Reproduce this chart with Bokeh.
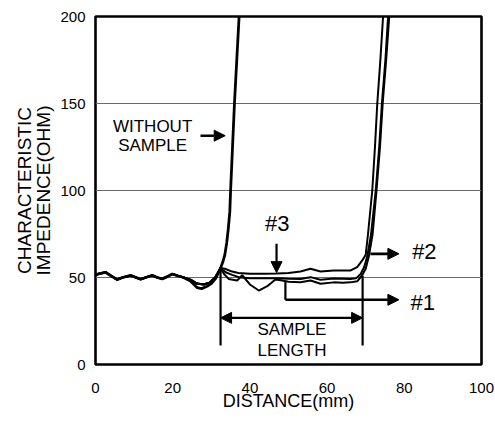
import math
from bokeh.plotting import figure
from bokeh.models import Range1d, Label, Arrow, NormalHead, FixedTicker
from bokeh.embed import file_html
from bokeh.resources import INLINE

FONT = "Liberation Sans"

# ---- data ----
# common wavy baseline before the sample (shared by all curves)
base_x = [0, 1, 2.6, 4, 5.6, 7, 9.1, 10.5, 11.7, 13, 14.7, 16, 17.3, 18.6, 19.9, 21.3, 22.8]
base_y = [51.5, 52.2, 53, 51, 48.8, 50, 51.2, 50, 49, 50, 51.2, 50, 49.2, 50.5, 52, 51, 50]

# without sample
wo_x = base_x + [24.6, 26.3, 27.5, 28.9, 30, 31.1, 31.9, 32.5, 33, 33.5, 34, 34.4, 34.8, 35.0, 35.5, 36.0, 36.6, 37.2]
wo_y = base_y + [48, 44.2, 43.6, 45, 46.5, 49.4, 53, 56, 59, 63, 70, 78, 88, 100, 125, 150, 175, 200]

pre_x = [24.6, 26.3, 28, 29.5, 31, 32.4]
pre_y = [48.8, 46.5, 46, 47, 50, 55.5]

# sample #2 (top)
s2_x = base_x + pre_x + [33.5, 35.4, 37, 40, 44, 47, 50, 53.1, 55.7, 58.3, 61.7, 64, 66, 67.8, 69.1, 70, 70.6, 71.7, 72.4, 73.0, 73.8, 74.5]
s2_y = base_y + pre_y + [55, 53.4, 52.6, 52.1, 52.1, 52.3, 52.6, 53.4, 55, 53.4, 54, 54, 54, 56, 59.8, 63, 75, 100, 125, 150, 175, 200]

# sample #3 (middle)
s3_x = base_x + pre_x + [33.7, 35.4, 37.1, 40, 44, 47, 50, 53.1, 55.7, 58.3, 61.7, 64, 66, 67.5, 68.7, 69.6, 70.4, 71.4, 72.6, 73.5, 74.2, 75.1, 75.8]
s3_y = base_y + pre_y + [53, 51.5, 50.2, 49.6, 49.5, 49.6, 49.3, 49.2, 50.2, 48.7, 49.4, 49.3, 49.2, 49.5, 52, 56, 62, 75, 100, 125, 150, 175, 200]

# sample #1 (bottom, with dips)
s1_x = base_x + pre_x + [33.3, 34.5, 36.7, 38.0, 40.0, 42.3, 44.5, 46.6, 48, 50, 53.1, 55.7, 58.3, 61.7, 64, 66, 67.8, 69.0, 70.0, 70.8, 71.8, 72.8, 73.7, 74.4, 75.3, 76.1]
s1_y = base_y + pre_y + [52, 49.2, 48.3, 51.3, 46, 42.5, 45, 48.9, 48.4, 47.5, 47.3, 48.3, 46.4, 47.2, 47, 47.2, 47.8, 51, 55, 62, 75, 100, 125, 150, 175, 200]

x_ticks = [0, 20, 40, 60, 80, 100]
y_ticks = [0, 50, 100, 150, 200]

# sample length markers
len_x = [32.4, 69.2]
len_top = [55, 51]
len_bottom = [10.9, 10.9]
len_arrow_y = 26.8

p = figure(width=495, height=421, output_backend="svg", toolbar_location=None,
           x_range=Range1d(0, 100), y_range=Range1d(0, 200),
           min_border_left=95, min_border_right=14, min_border_top=16, min_border_bottom=57)

p.background_fill_color = "white"
p.border_fill_color = "white"
p.outline_line_color = "black"
p.outline_line_width = 2.6
p.outline_line_alpha = 1.0

p.xgrid.grid_line_color = None
p.ygrid.grid_line_color = "#6a6a6a"
p.ygrid.grid_line_width = 1

p.xaxis.ticker = FixedTicker(ticks=x_ticks)
p.yaxis.ticker = FixedTicker(ticks=y_ticks)
for ax in (p.xaxis[0], p.yaxis[0]):
    ax.axis_line_color = None
    ax.major_tick_line_color = None
    ax.minor_tick_line_color = None
    ax.major_tick_out = 0
    ax.major_tick_in = 0
    ax.minor_tick_out = 0
    ax.minor_tick_in = 0
    ax.major_label_text_font = FONT
    ax.major_label_text_font_size = "15px"
    ax.major_label_text_color = "black"
    ax.axis_label_text_font = FONT
    ax.axis_label_text_font_style = "normal"
    ax.axis_label_text_color = "black"
p.xaxis.major_label_standoff = 18
p.yaxis.major_label_standoff = 10

p.yaxis.axis_label = "CHARACTERISTIC\nIMPEDENCE(OHM)"
p.yaxis.axis_label_text_font_size = "19px"
p.yaxis.axis_label_standoff = 3
p.yaxis.axis_label_text_line_height = 0.95

p.xaxis.axis_label = "DISTANCE(mm)"
p.xaxis.axis_label_text_font_size = "18px"
p.xaxis.axis_label_standoff = -5

# curves
p.line(wo_x, wo_y, line_color="black", line_width=2.8)
p.line(s1_x, s1_y, line_color="black", line_width=2.0)
p.line(s3_x, s3_y, line_color="black", line_width=2.0)
p.line(s2_x, s2_y, line_color="black", line_width=2.0)

# sample length verticals
p.segment(x0=len_x, y0=len_top, x1=len_x, y1=len_bottom, line_color="black", line_width=2.2)

def head():
    return NormalHead(size=11, fill_color="black", line_color="black", line_width=1)

p.add_layout(Arrow(start=head(), end=head(), x_start=len_x[0], y_start=len_arrow_y,
                   x_end=len_x[1], y_end=len_arrow_y, line_width=2.4, line_color="black"))
# without sample arrow
p.add_layout(Arrow(end=head(), x_start=27.2, y_start=131.5, x_end=33.6, y_end=131.5,
                   line_width=2.6, line_color="black"))
# #3 arrow
p.add_layout(Arrow(end=head(), x_start=46.9, y_start=69.4, x_end=46.9, y_end=52.8,
                   line_width=2.2, line_color="black"))
# #2 arrow
p.add_layout(Arrow(end=head(), x_start=71.2, y_start=63.6, x_end=78.6, y_end=63.6,
                   line_width=2.6, line_color="black"))
# #1 leader + arrow
p.segment(x0=[49.2], y0=[47.5], x1=[49.2], y1=[37.2], line_color="black", line_width=2.2)
p.add_layout(Arrow(end=head(), x_start=49.2, y_start=37.2, x_end=78.6, y_end=37.2,
                   line_width=2.4, line_color="black"))

def lab(text, x, y, size, **kw):
    p.add_layout(Label(text=text, x=x, y=y, text_font=FONT, text_font_size=size,
                       text_align=kw.pop("align", "center"), text_baseline="middle",
                       text_color="black", **kw))

lab("WITHOUT", 14.8, 137, "17px")
lab("SAMPLE", 14.8, 125.6, "17px")
lab("#3", 47.1, 81.3, "22px")
lab("#2", 85.2, 64.7, "22px")
lab("#1", 84.8, 35.9, "22px")
lab("SAMPLE", 50.9, 20.2, "17px")
lab("LENGTH", 50.9, 7.8, "17px")

open("out.html", "w").write(file_html(p, INLINE))
